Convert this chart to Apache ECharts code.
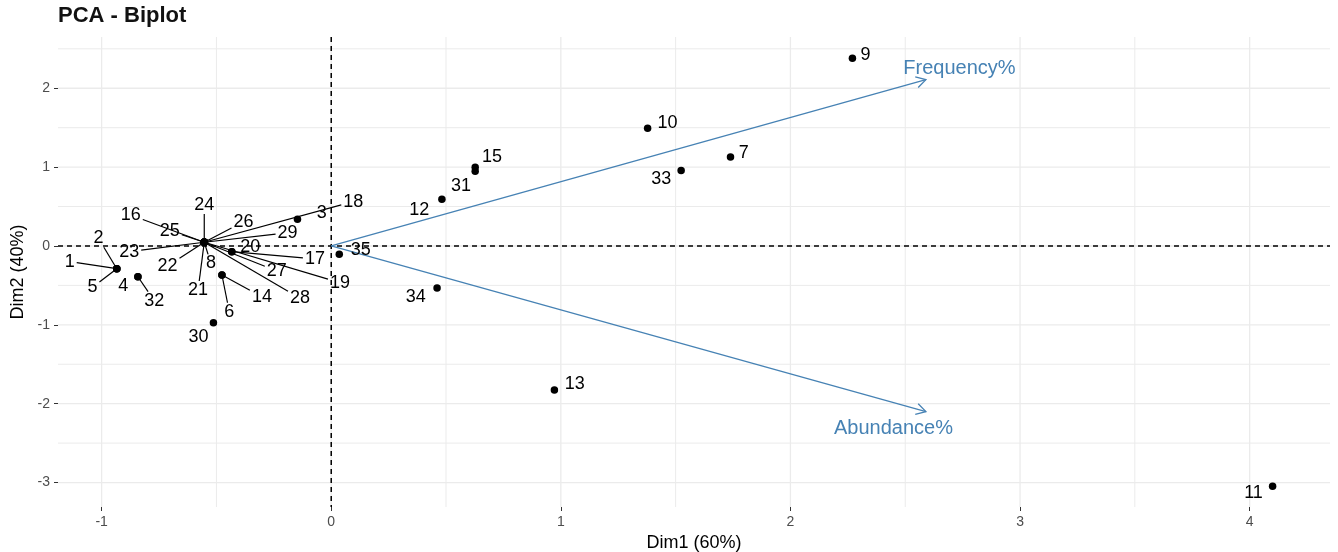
<!DOCTYPE html>
<html><head><meta charset="utf-8">
<script src="https://cdn.jsdelivr.net/npm/echarts@6/dist/echarts.min.js"></script>
<style>html,body{margin:0;padding:0;background:#fff}#c{width:1338px;height:552px}</style>
</head><body><div id="c"></div>
<script>
// ---- data ----
const ids  = ['1','2','3','4','5','6','7','8','9','10','11','12','13','14','15','16','17','18','19','20','21','22','23','24','25','26','27','28','29','30','31','32','33','34','35'];
const dim1 = [-0.934,-0.934,-0.147,-0.842,-0.934,-0.476,1.739,-0.553,2.270,1.378,4.100,0.482,0.972,-0.476,0.627,-0.553,-0.433,-0.553,-0.553,-0.433,-0.553,-0.553,-0.553,-0.553,-0.553,-0.553,-0.553,-0.553,-0.553,-0.513,0.627,-0.842,1.524,0.461,0.035];
const dim2 = [-0.288,-0.288,0.339,-0.390,-0.288,-0.368,1.129,0.047,2.380,1.494,-3.046,0.593,-1.827,-0.368,0.998,0.047,-0.072,0.047,0.047,-0.072,0.047,0.047,0.047,0.047,0.047,0.047,0.047,0.047,0.047,-0.973,0.947,-0.390,0.956,-0.533,-0.106];
const variables = ['Frequency%','Abundance%'];
const varDim1 = [2.59, 2.59];
const varDim2 = [2.11, -2.10];
const xTicks = [-1,0,1,2,3,4];
const yTicks = [-3,-2,-1,0,1,2];
const xGrid = [-1,-0.5,0,0.5,1,1.5,2,2.5,3,3.5,4];
const yGrid = [-3,-2.5,-2,-1.5,-1,-0.5,0,0.5,1,1.5,2,2.5];

// ---- label placement (repelled label anchors in data units, segment flag) ----
const labelAt = {
 '1':[-1.139,-0.199,1],'2':[-1.014,0.098,1],'3':[-0.041,0.423,0],'4':[-0.906,-0.508,0],'5':[-1.040,-0.524,1],
 '6':[-0.444,-0.834,1],'7':[1.797,1.176,0],'8':[-0.524,-0.220,1],'9':[2.327,2.424,0],'10':[1.465,1.565,0],
 '11':[4.017,-3.135,0],'12':[0.383,0.457,0],'13':[1.061,-1.751,0],'14':[-0.302,-0.643,1],'15':[0.700,1.126,0],
 '16':[-0.873,0.393,1],'17':[-0.071,-0.165,1],'18':[0.096,0.562,1],'19':[0.038,-0.466,1],'20':[-0.353,-0.016,0],
 '21':[-0.580,-0.558,1],'22':[-0.713,-0.254,1],'23':[-0.880,-0.072,1],'24':[-0.553,0.520,1],'25':[-0.703,0.194,1],
 '26':[-0.382,0.308,1],'27':[-0.237,-0.317,1],'28':[-0.136,-0.664,1],'29':[-0.190,0.169,1],'30':[-0.578,-1.151,0],
 '31':[0.565,0.761,0],'32':[-0.771,-0.694,1],'33':[1.437,0.846,0],'34':[0.368,-0.651,0],'35':[0.129,-0.051,0]
};
const varLabelAt = [[2.736,2.246],[2.449,-2.31]];

const FONT = '"Liberation Sans", Arial, sans-serif';
const chart = echarts.init(document.getElementById('c'), null, {renderer:'canvas'});

function gridRenderer(vertical, dashed){
  return function(params, api){
    const cs = params.coordSys;
    let shape, v;
    if (vertical){ v = api.value(0); const x = api.coord([v, 0])[0]; shape = {x1:x, y1:cs.y, x2:x, y2:cs.y+cs.height}; }
    else { v = api.value(1); const y = api.coord([0, v])[1]; shape = {x1:cs.x, y1:y, x2:cs.x+cs.width, y2:y}; }
    const major = Number.isInteger(v);
    return {type:'line', shape, style: dashed ? {stroke:'#000', lineWidth:1.5, lineDash:[5,4]} : {stroke:'#ebebeb', lineWidth: major?1.3:1}};
  };
}

const pointData = ids.map((id,i)=>[dim1[i], dim2[i], labelAt[id][0], labelAt[id][1], labelAt[id][2]]);

const option = {
  animation:false,
  title:{text:'PCA - Biplot', left:58, top:5, padding:0, textStyle:{fontSize:22, fontWeight:'bold', color:'#111', fontFamily:FONT}},
  grid:{left:58, right:8, top:37, bottom:45, containLabel:false, outerBoundsMode:'none'},
  xAxis:{type:'value', min:-1.19, max:4.35, splitLine:{show:false},
    axisLine:{show:false, onZero:false},
    axisTick:{show:true, customValues:xTicks, length:4, lineStyle:{color:'#333', width:1}},
    axisLabel:{customValues:xTicks, color:'#4d4d4d', fontSize:14, margin:8, fontFamily:FONT},
    name:'Dim1 (60%)', nameLocation:'middle', nameGap:26, nameTextStyle:{color:'#000', fontSize:18, fontFamily:FONT}},
  yAxis:{type:'value', min:-3.31, max:2.65, splitLine:{show:false},
    axisLine:{show:false, onZero:false},
    axisTick:{show:true, customValues:yTicks, length:4, lineStyle:{color:'#333', width:1}},
    axisLabel:{customValues:yTicks, color:'#4d4d4d', fontSize:14, margin:8, fontFamily:FONT},
    name:'Dim2 (40%)', nameLocation:'middle', nameGap:30, nameRotate:90, nameTextStyle:{color:'#000', fontSize:18, fontFamily:FONT}},
  series:[
    {type:'custom', silent:true, z:0, data:xGrid.map(v=>[v,0]), renderItem:gridRenderer(true,false), encode:{x:0, y:1}},
    {type:'custom', silent:true, z:0, data:yGrid.map(v=>[0,v]), renderItem:gridRenderer(false,false), encode:{x:0, y:1}},
    {type:'custom', silent:true, z:1, data:[[0,0]], renderItem:gridRenderer(true,true), encode:{x:0, y:1}},
    {type:'custom', silent:true, z:1, data:[[0,0]], renderItem:gridRenderer(false,true), encode:{x:0, y:1}},
    // variable arrows
    {type:'custom', silent:true, z:2, data:variables.map((n,i)=>[varDim1[i], varDim2[i], varLabelAt[i][0], varLabelAt[i][1]]),
     encode:{x:[0,2], y:[1,3]},
     renderItem(params, api){
       const o = api.coord([0,0]);
       const t = api.coord([api.value(0), api.value(1)]);
       const lc = api.coord([api.value(2), api.value(3)]);
       const ang = Math.atan2(t[1]-o[1], t[0]-o[0]);
       const L = 11, a = Math.PI/6;
       const h1 = [t[0]-L*Math.cos(ang-a), t[1]-L*Math.sin(ang-a)];
       const h2 = [t[0]-L*Math.cos(ang+a), t[1]-L*Math.sin(ang+a)];
       const col = '#4682B4';
       return {type:'group', children:[
         {type:'line', shape:{x1:o[0], y1:o[1], x2:t[0], y2:t[1]}, style:{stroke:col, lineWidth:1.3}},
         {type:'polyline', shape:{points:[h1, t, h2]}, style:{stroke:col, lineWidth:1.3, fill:null}},
         {type:'text', x:lc[0], y:lc[1], style:{text:variables[params.dataIndex], fill:col, font:'20px '+FONT, align:'center', verticalAlign:'middle'}}
       ]};
     }},
    // label segments + labels
    {type:'custom', silent:true, z:3, data:pointData, encode:{x:[0,2], y:[1,3]},
     renderItem(params, api){
       const name = ids[params.dataIndex];
       const p = api.coord([api.value(0), api.value(1)]);
       const c = api.coord([api.value(2), api.value(3)]);
       const fs = 18;
       const hw = name.length*0.556*fs/2 + 2, hh = fs*0.5;
       const children = [];
       if (api.value(4)) {
         const dx = p[0]-c[0], dy = p[1]-c[1];
         const t = Math.min(dx!==0 ? hw/Math.abs(dx) : Infinity, dy!==0 ? hh/Math.abs(dy) : Infinity);
         if (t < 1) {
           children.push({type:'line', shape:{x1:p[0], y1:p[1], x2:c[0]+dx*t, y2:c[1]+dy*t}, style:{stroke:'#000', lineWidth:1.2}});
         }
       }
       children.push({type:'text', x:c[0], y:c[1], style:{text:name, fill:'#000', font:fs+'px '+FONT, align:'center', verticalAlign:'middle'}});
       return {type:'group', children};
     }},
    // points
    {type:'scatter', z:4, symbol:'circle', symbolSize:7.5, itemStyle:{color:'#000', opacity:1}, silent:true,
     data: ids.map((id,i)=>[dim1[i], dim2[i]])}
  ]
};
chart.setOption(option);
</script>
</body></html>
